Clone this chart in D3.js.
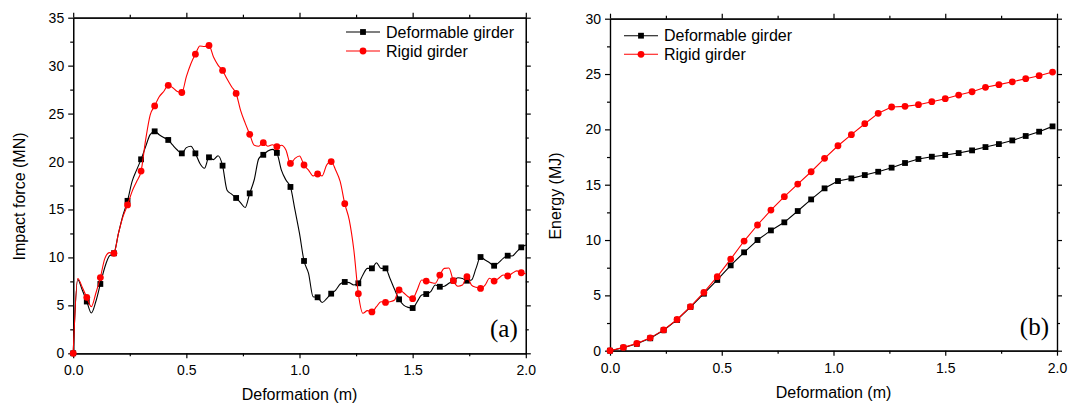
<!DOCTYPE html>
<html>
<head>
<meta charset="utf-8">
<script src="https://cdn.jsdelivr.net/npm/d3@7"></script>
<style>
  html, body { margin: 0; padding: 0; background: #fff; }
  svg { display: block; }
  text { font-family: Arial, "Liberation Sans", sans-serif; fill: #000; }
  .panel-tag { font-family: "Times New Roman", "Liberation Serif", serif; }
</style>
</head>
<body>
<svg id="fig" width="1068" height="405"></svg>
<script>
// ---------- (a) impact force vs deformation, sampled every 0.02 m ----------
const forceDeformation = [
  0.00,0.02,0.04,0.06,0.08,0.10,0.12,0.14,0.16,0.18,
  0.20,0.22,0.24,0.26,0.28,0.30,0.32,0.34,0.36,0.38,
  0.40,0.42,0.44,0.46,0.48,0.50,0.52,0.54,0.56,0.58,
  0.60,0.62,0.64,0.66,0.68,0.70,0.72,0.74,0.76,0.78,
  0.80,0.82,0.84,0.86,0.88,0.90,0.92,0.94,0.96,0.98,
  1.00,1.02,1.04,1.06,1.08,1.10,1.12,1.14,1.16,1.18,
  1.20,1.22,1.24,1.26,1.28,1.30,1.32,1.34,1.36,1.38,
  1.40,1.42,1.44,1.46,1.48,1.50,1.52,1.54,1.56,1.58,
  1.60,1.62,1.64,1.66,1.68,1.70,1.72,1.74,1.76,1.78,
  1.80,1.82,1.84,1.86,1.88,1.90,1.92,1.94,1.96,1.98,
  2.00
];
const forceDeformable = [
  0, 7.7, 6.6, 5.4, 4.2, 5.4, 7.23, 9.0, 10.15, 10.43,
  12.5, 14.4, 15.9, 17.9, 19.1, 20.23, 21.55, 22.8, 23.15, 22.8,
  22.5, 22.25, 21.7, 21.2, 20.85, 21.45, 21.6, 20.85, 19.8, 19.3,
  20.44, 20.2, 20.6, 19.57, 17.0, 16.6, 16.2, 15.7, 15.2, 16.68,
  18.1, 20.3, 20.7, 21.1, 21.27, 20.9, 19.1, 18.07, 17.35, 14.95,
  12.5, 9.63, 8.34, 5.9, 5.84, 5.3, 5.7, 6.22, 6.6, 7.23,
  7.44, 7.37, 7.13, 7.3, 8.17, 8.86, 8.86, 9.45, 8.86, 8.86,
  7.8, 6.67, 5.63, 5.03, 4.79, 4.72, 5.38, 6.08, 6.18, 6.43,
  7.12, 6.94, 7.0, 7.3, 7.57, 7.88, 7.8, 7.57, 7.64, 8.86,
  10.04, 9.73, 9.45, 9.13, 9.45, 9.9, 10.18, 10.15, 10.6, 11.05,
  11.3
];
const forceRigid = [
  0, 7.8, 6.9, 5.84, 4.87, 6.26, 7.9, 9.9, 10.5, 10.43,
  12.5, 14.25, 15.47, 16.86, 17.9, 19.0, 22.25, 24.85, 25.8, 26.76,
  27.3, 27.95, 27.7, 27.3, 27.2, 28.85, 30.2, 31.2, 32.05, 32.0,
  32.1, 30.9, 30.06, 29.5, 28.6, 27.8, 27.1, 25.3, 24.0, 22.84,
  21.7, 21.6, 21.97, 21.6, 21.75, 21.55, 21.7, 21.2, 19.8, 20.33,
  20.58, 19.64, 19.1, 18.5, 18.7, 18.5, 19.64, 20.0, 19.1, 17.9,
  15.6, 13.9, 10.8, 6.22, 4.17, 4.45, 4.31, 4.86, 5.38, 5.31,
  5.38, 5.56, 6.6, 6.32, 5.9, 5.7, 6.6, 7.64, 7.53, 7.4,
  7.3, 8.16, 8.86, 8.9, 7.57, 7.0, 7.12, 7.99, 7.12, 6.88,
  6.77, 7.12, 7.82, 7.53, 7.82, 8.16, 8.06, 8.34, 8.6, 8.4,
  8.3
];

// ---------- (b) absorbed energy vs deformation, every 0.06 m ----------
const energyDeformation = [
  0.00,0.06,0.12,0.18,0.24,0.30,0.36,0.42,0.48,0.54,
  0.60,0.66,0.72,0.78,0.84,0.90,0.96,1.02,1.08,1.14,
  1.20,1.26,1.32,1.38,1.44,1.50,1.56,1.62,1.68,1.74,
  1.80,1.86,1.92,1.98
];
const energyDeformable = [
  0, 0.27, 0.62, 1.12, 1.85, 2.78, 3.95, 5.15, 6.39, 7.71,
  8.89, 10.0, 10.87, 11.6, 12.62, 13.67, 14.67, 15.33, 15.57, 15.87,
  16.17, 16.54, 16.96, 17.32, 17.53, 17.68, 17.86, 18.1, 18.4, 18.67,
  19.0, 19.4, 19.79, 20.27
];
const energyRigid = [
  0, 0.3, 0.65, 1.16, 1.88, 2.82, 3.98, 5.27, 6.69, 8.28,
  9.91, 11.36, 12.71, 13.92, 15.06, 16.17, 17.38, 18.52, 19.52, 20.51,
  21.45, 22.02, 22.08, 22.23, 22.5, 22.77, 23.1, 23.4, 23.8, 24.04,
  24.3, 24.58, 24.85, 25.18
];

// ---------- shared labels ----------
const seriesNames = ["Deformable girder", "Rigid girder"];
const seriesColors = ["#000000", "#ff0000"];
const xTitle = "Deformation (m)";
const forceTitle = "Impact force (MN)";
const energyTitle = "Energy (MJ)";
const xMajorTicks = [0, 0.5, 1.0, 1.5, 2.0];
const xMinorTicks = [0.25, 0.75, 1.25, 1.75];
const forceMajorTicks = [0, 5, 10, 15, 20, 25, 30, 35];
const forceMinorTicks = [2.5, 7.5, 12.5, 17.5, 22.5, 27.5, 32.5];
const energyMajorTicks = [0, 5, 10, 15, 20, 25, 30];
const energyMinorTicks = [2.5, 7.5, 12.5, 17.5, 22.5, 27.5];

const svg = d3.select("#fig");

function drawPanel(cfg) {
  const x = d3.scaleLinear().domain([0, 2]).range([cfg.left, cfg.right]);
  const y = d3.scaleLinear().domain(cfg.yDomain).range([cfg.bottom, cfg.top]);
  const g = svg.append("g");

  // frame with outward major/minor ticks on all four sides
  const fmtX = d3.format(".1f");
  const addAxis = (axis, tx, ty, labelled) => {
    const a = g.append("g").attr("transform", `translate(${tx},${ty})`).call(axis);
    a.selectAll("path, line").attr("stroke", "#000").attr("stroke-width", 1.2);
    a.selectAll("text").style("font-size", "14px");
    if (!labelled) a.selectAll("text").remove();
    return a;
  };
  addAxis(d3.axisBottom(x).tickValues(xMajorTicks).tickFormat(fmtX).tickSize(5).tickSizeOuter(0).tickPadding(7), 0, cfg.bottom, true);
  addAxis(d3.axisBottom(x).tickValues(xMinorTicks).tickSize(3).tickSizeOuter(0), 0, cfg.bottom, false);
  addAxis(d3.axisTop(x).tickValues(xMajorTicks).tickSize(5).tickSizeOuter(0), 0, cfg.top, false);
  addAxis(d3.axisTop(x).tickValues(xMinorTicks).tickSize(3).tickSizeOuter(0), 0, cfg.top, false);
  addAxis(d3.axisLeft(y).tickValues(cfg.yMajor).tickFormat(d3.format("d")).tickSize(5).tickSizeOuter(0).tickPadding(4), cfg.left, 0, true);
  addAxis(d3.axisLeft(y).tickValues(cfg.yMinor).tickSize(3).tickSizeOuter(0), cfg.left, 0, false);
  addAxis(d3.axisRight(y).tickValues(cfg.yMajor).tickSize(5).tickSizeOuter(0), cfg.right, 0, false);
  addAxis(d3.axisRight(y).tickValues(cfg.yMinor).tickSize(3).tickSizeOuter(0), cfg.right, 0, false);

  // axis titles
  g.append("text")
    .attr("x", (cfg.left + cfg.right) / 2).attr("y", cfg.xTitleY)
    .attr("text-anchor", "middle").style("font-size", "16px").text(xTitle);
  g.append("text")
    .attr("transform", `translate(${cfg.yTitleX},${cfg.yTitleCY}) rotate(-90)`)
    .attr("text-anchor", "middle").style("font-size", "16px").text(cfg.yTitle);

  // data lines and markers
  const clip = "clip-" + cfg.tag;
  svg.append("clipPath").attr("id", clip).append("rect")
    .attr("x", cfg.left).attr("y", cfg.top - 8)
    .attr("width", cfg.right - cfg.left + 6).attr("height", cfg.bottom - cfg.top + 16);
  const line = d3.line().x(d => x(d[0])).y(d => y(d[1])).curve(cfg.curve);
  cfg.series.forEach((vals, si) => {
    const pts = cfg.xs.map((xv, i) => [xv, vals[i]]);
    g.append("path").datum(pts)
      .attr("fill", "none").attr("stroke", seriesColors[si])
      .attr("stroke-width", 1.1).attr("stroke-linejoin", "round")
      .attr("clip-path", `url(#${clip})`)
      .attr("d", line);
    const marks = pts.filter((p, i) => i % cfg.markEvery === 0);
    drawMarkers(g, marks.map(p => [x(p[0]), y(p[1])]), si);
  });

  // legend
  seriesNames.forEach((name, si) => {
    const ly = cfg.legendY + si * cfg.legendGap;
    g.append("line")
      .attr("x1", cfg.legendX).attr("x2", cfg.legendX + 34)
      .attr("y1", ly).attr("y2", ly)
      .attr("stroke", seriesColors[si]).attr("stroke-width", 1.1);
    drawMarkers(g, [[cfg.legendX + 17, ly]], si);
    g.append("text").attr("x", cfg.legendX + 40).attr("y", ly + 5.5)
      .style("font-size", "16px").text(name);
  });

  // panel tag
  g.append("text").attr("class", "panel-tag")
    .attr("x", cfg.right - 8).attr("y", cfg.bottom - 16)
    .attr("text-anchor", "end").style("font-size", "25px").text(cfg.tag);
}

function drawMarkers(g, pts, si) {
  if (si === 0) {
    g.selectAll(null).data(pts).enter().append("rect")
      .attr("x", d => d[0] - 2.9).attr("y", d => d[1] - 2.9)
      .attr("width", 5.8).attr("height", 5.8).attr("fill", "#000");
  } else {
    g.selectAll(null).data(pts).enter().append("circle")
      .attr("cx", d => d[0]).attr("cy", d => d[1]).attr("r", 3.4)
      .attr("fill", "#ff0000");
  }
}

drawPanel({
  tag: "(a)", left: 73.2, right: 525.8, top: 17.7, bottom: 353.3,
  yDomain: [0, 35], yMajor: forceMajorTicks, yMinor: forceMinorTicks,
  yTitle: forceTitle, yTitleX: 24.5, yTitleCY: 196.5, xTitleY: 400,
  xs: forceDeformation, series: [forceDeformable, forceRigid],
  curve: d3.curveMonotoneX, markEvery: 3,
  legendX: 346, legendY: 32, legendGap: 19
});

drawPanel({
  tag: "(b)", left: 610, right: 1057, top: 18.7, bottom: 350.7,
  yDomain: [0, 30], yMajor: energyMajorTicks, yMinor: energyMinorTicks,
  yTitle: energyTitle, yTitleX: 560.7, yTitleCY: 196, xTitleY: 397.5,
  xs: energyDeformation, series: [energyDeformable, energyRigid],
  curve: d3.curveLinear, markEvery: 1,
  legendX: 624, legendY: 35.7, legendGap: 18.6
});
</script>
</body>
</html>
